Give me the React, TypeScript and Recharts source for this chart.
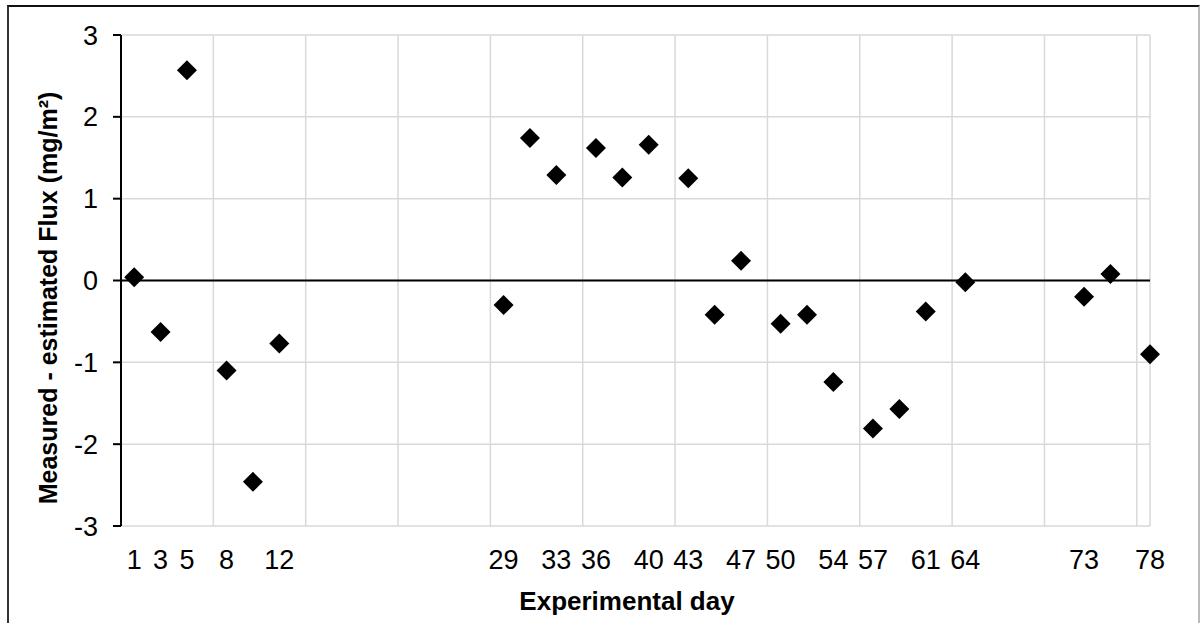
import React from 'react';
import { ScatterChart, Scatter, XAxis, YAxis, CartesianGrid, ReferenceLine } from 'recharts';

const days = [1, 3, 5, 8, 10, 12, 29, 31, 33, 36, 38, 40, 43, 45, 47, 50, 52, 54, 57, 59, 61, 64, 73, 75, 78];
const diffs = [0.04, -0.63, 2.57, -1.1, -2.46, -0.77, -0.3, 1.74, 1.29, 1.62, 1.26, 1.66, 1.25, -0.42, 0.24, -0.53, -0.42, -1.24, -1.81, -1.57, -0.38, -0.02, -0.2, 0.08, -0.9];
const dayLabels = [1, 3, 5, 8, 12, 29, 33, 36, 40, 43, 47, 50, 54, 57, 61, 64, 73, 78];
const gridDays = [0, 7, 14, 21, 28, 35, 42, 49, 56, 63, 70, 77];
const yTicks = [-3, -2, -1, 0, 1, 2, 3];

const data = days.map((d, i) => ({ day: d, diff: diffs[i] }));

const FONT = '"Liberation Sans", Arial, Helvetica, sans-serif';
const CHART_W = 1200;
const CHART_H = 623;
const MARGIN = { top: 35, right: 50, bottom: 0, left: 0 };
const X_AXIS_H = 97;
const PLOT_H = CHART_H - MARGIN.top - MARGIN.bottom - X_AXIS_H;
const ZERO_Y = MARGIN.top + PLOT_H / 2;
const TICK_FS = 27;

const Diamond = (props: any) => {
  const { cx, cy } = props;
  if (cx == null || cy == null) return null;
  const r = 10;
  return (
    <polygon
      points={`${cx},${cy - r} ${cx + r},${cy} ${cx},${cy + r} ${cx - r},${cy}`}
      fill="#000"
    />
  );
};

const ZeroTick = (props: any) => {
  const { x } = props;
  return <line x1={x} x2={x} y1={ZERO_Y} y2={ZERO_Y + 8} stroke="#000" strokeWidth={2} />;
};

const tickStyle = { fill: '#000', fontSize: TICK_FS, fontFamily: FONT, style: { fontSize: TICK_FS, fontFamily: FONT } };

export default function App() {
  return (
    <div style={{ position: 'absolute', left: 0, top: 0, width: CHART_W, height: CHART_H, overflow: 'hidden', background: '#fff' }}>
      <div
        style={{
          position: 'absolute',
          left: 7,
          top: 5,
          width: 1189,
          height: 800,
          borderTop: '2px solid #111',
          borderLeft: '2px solid #333',
          borderRight: '2px solid #bbb',
        }}
      />
      <div style={{ position: 'absolute', left: 0, top: 0 }}>
        <ScatterChart width={CHART_W} height={CHART_H} margin={MARGIN}>
          <CartesianGrid xAxisId="grid" stroke="#d9d9d9" strokeWidth={1.5} />
          <XAxis
            xAxisId="lab"
            type="number"
            dataKey="day"
            domain={[0, 78]}
            ticks={dayLabels}
            interval={0}
            axisLine={false}
            tickLine={false}
            tickSize={0}
            tickMargin={24}
            height={X_AXIS_H}
            fontSize={TICK_FS}
            tick={tickStyle}
          />
          <XAxis
            xAxisId="grid"
            type="number"
            dataKey="day"
            domain={[0, 78]}
            ticks={gridDays}
            interval={0}
            allowDataOverflow
            axisLine={false}
            tickLine={false}
            height={0}
            tick={<ZeroTick />}
          />
          <YAxis
            type="number"
            dataKey="diff"
            domain={[-3, 3]}
            ticks={yTicks}
            interval={0}
            width={121}
            axisLine={{ stroke: '#000', strokeWidth: 2 }}
            tickLine={{ stroke: '#000', strokeWidth: 2 }}
            tickSize={8}
            tickMargin={15}
            fontSize={TICK_FS}
            tick={tickStyle}
          />
          <ReferenceLine xAxisId="lab" y={0} stroke="#000" strokeWidth={2} />
          <Scatter xAxisId="lab" data={data} shape={<Diamond />} isAnimationActive={false} />
        </ScatterChart>
      </div>
      <svg width={CHART_W} height={CHART_H} style={{ position: 'absolute', left: 0, top: 0, pointerEvents: 'none' }}>
        <text x={627} y={610} textAnchor="middle" fontFamily={FONT} fontWeight="bold" fontSize={26} fill="#000">
          Experimental day
        </text>
        <text
          transform="translate(57,298) rotate(-90)"
          textAnchor="middle"
          fontFamily={FONT}
          fontWeight="bold"
          fontSize={25}
          fill="#000"
        >
          Measured - estimated Flux (mg/m²)
        </text>
      </svg>
    </div>
  );
}
